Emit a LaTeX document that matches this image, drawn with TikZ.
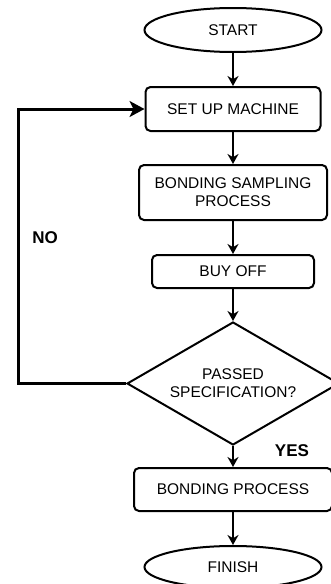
\documentclass[tikz,border=0pt]{standalone}
\usepackage{fontspec}
\setmainfont{Liberation Sans}
\usetikzlibrary{arrows.meta,shapes.geometric}
\tikzset{
	flow/.style={draw, line width=2pt, inner sep=0pt, align=center,
		font=\fontsize{15.5}{18}\selectfont},
	term/.style={flow, ellipse, minimum width=177pt, minimum height=44pt},
	stepbox/.style={flow, rectangle, rounded corners=5pt, minimum height=44pt},
	decide/.style={flow, diamond, shape aspect=1.72, minimum width=212pt, minimum height=123pt},
	link/.style={line width=2pt, -{Stealth[length=10pt,width=11pt]}},
	back/.style={line width=3pt, -{Stealth[length=15pt,width=16pt,inset=4pt]}},
	answer/.style={font=\fontsize{17}{19}\selectfont\bfseries}
}

\begin{document}
\begin{tikzpicture}[x=1pt, y=-1pt]
		%%%%% START %%%%%
		\useasboundingbox (0,0) rectangle (331,584);
		
		\node[term] (start) at (233, 30) {START};
		\node[stepbox, minimum width=175pt] (setup) at (233, 109) {SET UP MACHINE};
		\node[stepbox, minimum width=188pt, minimum height=55pt] (sampling) at (233, 192.5) {BONDING SAMPLING\\PROCESS};
		\node[stepbox, minimum width=162pt, minimum height=33pt] (buyoff) at (233, 271.5) {BUY OFF};
		\node[decide] (check) at (233, 383.5) {PASSED\\SPECIFICATION?};
		\node[stepbox, minimum width=198pt, minimum height=43pt] (bonding) at (233, 489.5) {BONDING PROCESS};
		\node[term, minimum height=42pt] (finish) at (233, 567) {FINISH};
		
		\draw[link] (start) -- (setup);
		\draw[link] (setup) -- (sampling);
		\draw[link] (sampling) -- (buyoff);
		\draw[link] (buyoff) -- (check);
		\draw[link] (check) -- (bonding);
		\draw[link] (bonding) -- (finish);
		
		% loop back when the check fails
		\coordinate (corner) at (18, 383.5);
		\draw[back] (check.west) -- (corner) |- (setup.west);
		
		\node[answer] (no) at (45, 238) {NO};
		\node[answer] (yes) at (292, 451) {YES};
		
		%%%%% END %%%%%
	\end{tikzpicture}
\end{document}
